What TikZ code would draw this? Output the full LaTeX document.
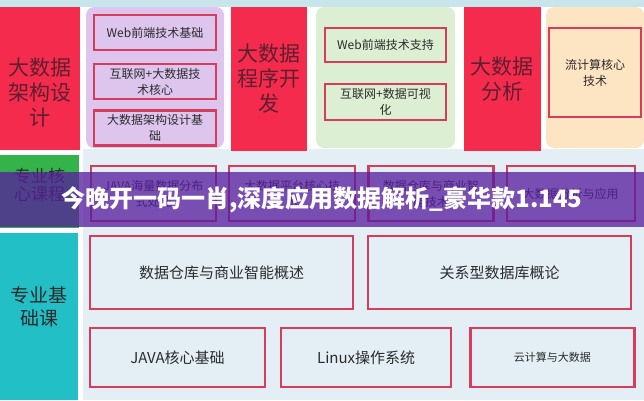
\documentclass[tikz,border=0pt]{standalone}
\usepackage{fontspec}
\setmainfont{Noto Sans CJK SC}
\usetikzlibrary{positioning}
\definecolor{hotred}{HTML}{F52B4D}
\definecolor{headink}{HTML}{5E1F2E}
\definecolor{ink}{HTML}{2B2B2B}
\definecolor{boxline}{HTML}{D83C5C}
\definecolor{lilac}{HTML}{DEC5EE}
\definecolor{mint}{HTML}{DCEFD2}
\definecolor{peach}{HTML}{FDE4C2}
\definecolor{panelbg}{HTML}{E3EFF5}
\definecolor{topstrip}{HTML}{C8E5EB}
\definecolor{coregreen}{HTML}{34B34A}
\definecolor{teal}{HTML}{22BFC7}
\definecolor{bannerpurple}{HTML}{581E9E}

\begin{document}
\begin{tikzpicture}[x=1pt,y=-1pt,
  node distance=12pt and 11pt,
  head/.style={fill=hotred,text=headink,align=center,inner sep=0pt,
    font=\fontsize{21}{25}\selectfont},
  panel/.style={rounded corners=8pt,inner sep=0pt},
  cell/.style={draw=boxline,line width=2.2pt,align=center,inner sep=2pt,
    text=ink,font=\fontsize{12}{16}\selectfont},
  widecell/.style={cell,font=\fontsize{15}{18}\selectfont},
  tagtext/.style={align=center,text=ink}
]
  \useasboundingbox (0,0) rectangle (644,400);
  \fill[white] (0,0) rectangle (644,400);
  \fill[topstrip] (0,0) rectangle (644,7);
  \fill[panelbg] (83,149) rectangle (644,400);

  % top row: three red heads, each with its panel of topics
  \node[head,minimum width=80pt,minimum height=143pt,
    label={[head,fill=none,yshift=-14pt]center:大数据\\架构设\\计}] (arch) at (40,78.5) {};
  \node[panel,fill=lilac,minimum width=138pt,minimum height=141pt] (lilacbox) at (155,77.5) {};
  \node[cell,fill=lilac,minimum width=122pt,minimum height=35pt] (webbase) at (155,32.5) {Web前端技术基础};
  \node[cell,fill=lilac,minimum width=122pt,minimum height=35pt,below=12pt of webbase] (netcore) {互联网+大数据技\\术核心};
  \node[cell,fill=lilac,minimum width=122pt,minimum height=35pt,below=9pt of netcore] (archbase) {大数据架构设计基\\础};

  \node[head,minimum width=76pt,minimum height=144pt] (prog) at (269,79) {大数据\\程序开\\发};
  \node[panel,fill=mint,minimum width=139pt,minimum height=141pt] (mintbox) at (385.5,77.5) {};
  \node[cell,fill=mint,minimum width=121pt,minimum height=34pt] (websupport) at (385.5,45) {Web前端技术支持};
  \node[cell,fill=mint,minimum width=121pt,minimum height=36pt,below=20pt of websupport] (netvis) {互联网+数据可视\\化};

  \node[head,minimum width=77pt,minimum height=144pt] (anal) at (502,79) {大数据\\分析};
  \node[panel,fill=peach,minimum width=98pt,minimum height=141pt] (peachbox) at (595,77.5) {};
  \node[cell,fill=peach,minimum width=92pt,minimum height=89pt] (stream) at (595,72.5) {流计算核心\\技术};

  % middle row: core courses
  \node[fill=coregreen,minimum width=79pt,minimum height=73pt,inner sep=0pt,
    label={[tagtext,yshift=7pt,font=\fontsize{17}{18}\selectfont]center:专业核\\心课程}] (core) at (39.5,191.5) {};
  \node[cell,minimum width=125pt,minimum height=55pt] (java) at (153.5,193.5) {JAVA海量数据分布\\式处理};
  \node[cell,minimum width=126pt,minimum height=55pt,right=of java] (platform) {大数据平台核心技\\术};
  \node[cell,minimum width=125pt,minimum height=55pt,right=of platform] (warehouse) {数据仓库与商业智\\能技术};
  \node[cell,minimum width=128pt,minimum height=55pt,right=of warehouse] (apply) {大数据分析与应用};

  % bottom row: basic courses
  \node[fill=teal,minimum width=78pt,minimum height=167pt,inner sep=0pt,
    label={[tagtext,yshift=10pt,font=\fontsize{19}{23}\selectfont]center:专业基\\础课}] (base) at (39,316.5) {};
  \node[widecell,minimum width=263pt,minimum height=73pt] (dwintro) at (221.5,272.5) {数据仓库与商业智能概述};
  \node[widecell,minimum width=263pt,minimum height=73pt,right=13pt of dwintro] (rdb) {关系型数据库概论};
  \node[widecell,minimum width=175pt,minimum height=59pt] (javacore) at (177.5,357.5) {JAVA核心基础};
  \node[widecell,minimum width=170pt,minimum height=59pt,right=14pt of javacore] (linux) {Linux操作系统};
  \node[cell,font=\fontsize{11}{14}\selectfont,minimum width=164pt,minimum height=59pt,right=17pt of linux] (cloud) {云计算与大数据};

  % overlay band
  \fill[bannerpurple,opacity=.77] (0,172) rectangle (644,227);
  \node[text=white,font=\bfseries\fontsize{24}{26}\selectfont] (banner) at (322,199.5) {今晚开一码一肖,深度应用数据解析\_豪华款1.145};
\end{tikzpicture}
\end{document}
